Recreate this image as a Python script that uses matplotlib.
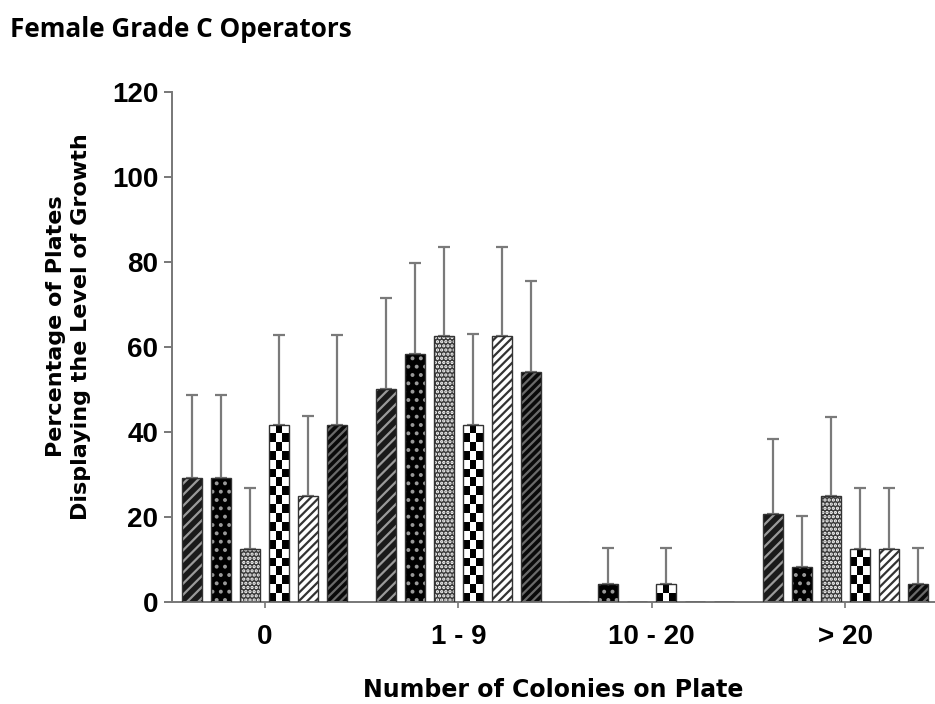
import matplotlib
matplotlib.use("Agg")
import matplotlib.pyplot as plt
import numpy as np

# data (percent of plates, upper error bar top)
categories = ["0", "1 - 9", "10 - 20", "> 20"]
s1 = [29.2, 50.0, 0.0, 20.8]
s2 = [29.2, 58.3, 4.2, 8.3]
s3 = [12.5, 62.5, 0.0, 25.0]
s4 = [41.7, 41.7, 4.2, 12.5]
s5 = [25.0, 62.5, 0.0, 12.5]
s6 = [41.7, 54.2, 0.0, 4.2]
e1 = [19.5, 21.5, 0.0, 17.6]
e2 = [19.5, 21.4, 8.6, 11.9]
e3 = [14.2, 21.0, 0.0, 18.6]
e4 = [21.1, 21.3, 8.6, 14.3]
e5 = [18.8, 21.0, 0.0, 14.3]
e6 = [21.1, 21.4, 0.0, 8.4]

series = [s1, s2, s3, s4, s5, s6]
errors = [e1, e2, e3, e4, e5, e6]

# face colour, hatch, hatch colour
styles = [
    ("#1a1a1a", "///", "#9a9a9a"),
    ("#000000", "..", "#9a9a9a"),
    ("#3a3a3a", "....", "#ffffff"),
    (None, None, None),          # checkerboard, drawn as image
    ("#ffffff", "////", "#333333"),
    ("#0a0a0a", "////", "#6a6a6a"),
]

plt.rcParams['hatch.linewidth'] = 1.6

fig = plt.figure(figsize=(9.35, 7.04), dpi=100)
ax = fig.add_axes([0.184, 0.145, 0.816, 0.7244])

x = np.arange(len(categories))
pitch = 0.15
width = 0.103

for i, (vals, errs) in enumerate(zip(series, errors)):
    pos = x + (i - 2.5) * pitch
    fc, hatch, hc = styles[i]
    if fc is not None:
        ax.bar(pos, vals, width, color=fc, edgecolor=hc, hatch=hatch,
               linewidth=0, zorder=2)
        ax.bar(pos, vals, width, fill=False, edgecolor="#333333",
               linewidth=1.0, zorder=3)
    else:
        bars = ax.bar(pos, vals, width, color="white", edgecolor="#333333",
                      linewidth=1.0, zorder=3, fill=False)
        for b, v in zip(bars, vals):
            if v <= 0:
                continue
            nrows = max(1, int(round(v / 2.1)))
            board = (np.indices((nrows, 3)).sum(axis=0) % 2).astype(float)
            im = ax.imshow(board, cmap="gray", interpolation="nearest",
                           extent=(b.get_x(), b.get_x() + width, 0, v),
                           aspect="auto", origin="lower", zorder=2)
            im.set_clip_path(b)
    # upper error bars only, skip empty bars
    ex = [p for p, v in zip(pos, vals) if v > 0]
    ey = [v for v in vals if v > 0]
    ee = [e for v, e in zip(vals, errs) if v > 0]
    ax.errorbar(ex, ey, yerr=[np.zeros(len(ee)), ee], fmt="none",
                ecolor="#7a7a7a", elinewidth=1.6, capsize=4, capthick=1.6,
                zorder=1)

ax.set_xlim(-0.48, 3.465)
ax.set_ylim(0, 120)
ax.set_yticks(range(0, 121, 20))
ax.set_xticks(x)
ax.set_xticklabels(categories)

for s in ["top", "right"]:
    ax.spines[s].set_visible(False)
for s in ["left", "bottom"]:
    ax.spines[s].set_color("#777777")
    ax.spines[s].set_linewidth(1.4)

ax.tick_params(axis="y", length=6, width=1.4, color="#777777", pad=4)
ax.tick_params(axis="x", length=4, width=1.2, color="#777777", pad=12)
for lab in ax.get_yticklabels() + ax.get_xticklabels():
    lab.set_fontfamily("Liberation Sans")
    lab.set_fontweight("bold")
    lab.set_fontsize(20)

ax.set_ylabel("Percentage of Plates\nDisplaying the Level of Growth",
              fontfamily="DejaVu Sans", fontweight="bold", fontsize=16,
              linespacing=1.3)
ax.yaxis.set_label_coords(-0.106, 0.54)
ax.set_xlabel("Number of Colonies on Plate", fontfamily="DejaVu Sans",
              fontweight="bold", fontsize=17, labelpad=20)

fig.text(0.011, 0.958, "Female Grade C Operators", fontfamily="Open Sans",
         fontweight="bold", fontsize=18.8, ha="left", va="center")

fig.savefig("out.png", dpi=100)
